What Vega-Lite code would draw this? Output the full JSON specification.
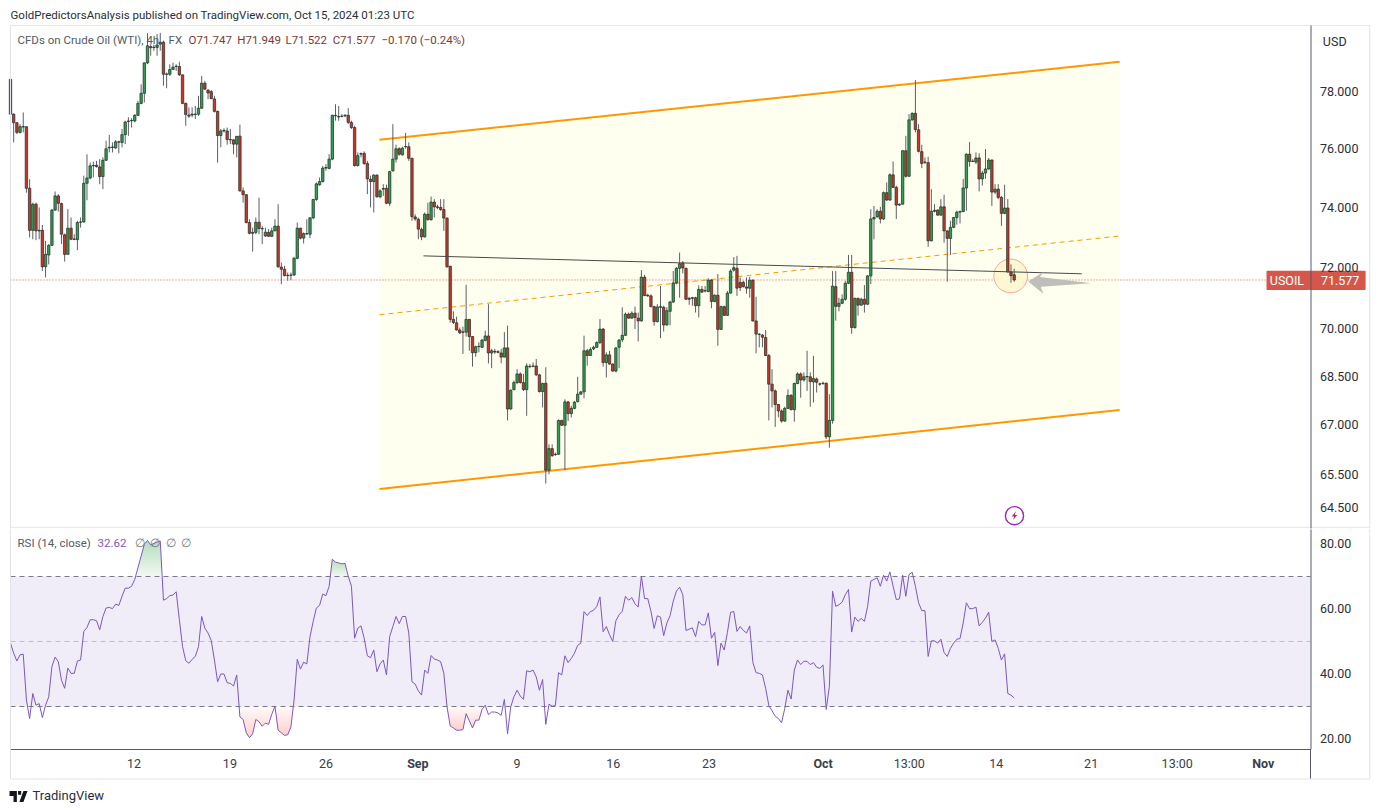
{"$schema":"https://vega.github.io/schema/vega-lite/v6.json","background":"#ffffff","padding":{"left":8.5,"top":10,"right":0,"bottom":0},"spacing":1,"bounds":"flush","config":{"view":{"stroke":null},"concat":{"spacing":1},"font":"Roboto","text":{"font":"Roboto"}},"datasets":{"bars":[
{"i":0,"o":78.45,"h":78.48,"l":77.21,"c":77.21,"r":49.5},{"i":1,"o":77.21,"h":77.24,"l":76.22,"c":76.91,"r":46.4},{"i":2,"o":76.91,"h":76.91,"l":76.51,"c":76.57,"r":44},{"i":3,"o":76.57,"h":76.86,"l":76.53,"c":76.77,"r":45.9},{"i":4,"o":76.76,"h":77.27,"l":76.57,"c":76.77,"r":46.1},{"i":5,"o":76.77,"h":76.77,"l":74.49,"c":74.64,"r":32},{"i":6,"o":74.64,"h":74.95,"l":72.98,"c":73.22,"r":26.3},{"i":7,"o":73.22,"h":74.15,"l":72.92,"c":74.1,"r":34},{"i":8,"o":74.1,"h":74.15,"l":72.89,"c":73.2,"r":30.4},{"i":9,"o":73.2,"h":73.99,"l":72.92,"c":73.22,"r":30.9},
{"i":10,"o":73.22,"h":73.4,"l":71.87,"c":72.01,"r":26.6},{"i":11,"o":72.01,"h":72.87,"l":71.66,"c":72.42,"r":30.4},{"i":12,"o":72.4,"h":72.76,"l":72.09,"c":72.72,"r":33},{"i":13,"o":72.72,"h":73.93,"l":72.7,"c":73.9,"r":42.3},{"i":14,"o":73.9,"h":74.53,"l":73.87,"c":74.38,"r":45.2},{"i":15,"o":74.38,"h":74.44,"l":73.85,"c":74.13,"r":43.8},{"i":16,"o":74.12,"h":74.15,"l":72.76,"c":73.09,"r":38.1},{"i":17,"o":73.07,"h":73.11,"l":72.18,"c":72.42,"r":35.6},{"i":18,"o":72.42,"h":73.93,"l":72.42,"c":73.29,"r":41.8},{"i":19,"o":73.29,"h":73.65,"l":72.89,"c":72.92,"r":40.2},
{"i":20,"o":72.93,"h":73.09,"l":72.89,"c":72.92,"r":40.2},{"i":21,"o":72.91,"h":73.54,"l":72.56,"c":73.48,"r":44},{"i":22,"o":73.49,"h":73.65,"l":73.31,"c":73.5,"r":44.3},{"i":23,"o":73.5,"h":75.07,"l":73.48,"c":74.81,"r":53.1},{"i":24,"o":74.81,"h":75.81,"l":74.23,"c":74.99,"r":54.3},{"i":25,"o":74.99,"h":75.52,"l":74.95,"c":75.41,"r":56.7},{"i":26,"o":75.41,"h":75.55,"l":75.01,"c":75.42,"r":56.7},{"i":27,"o":75.43,"h":75.58,"l":75.35,"c":75.38,"r":56.4},{"i":28,"o":75.37,"h":75.64,"l":74.78,"c":75.04,"r":53.6},{"i":29,"o":75.04,"h":75.7,"l":74.61,"c":75.6,"r":57.7},
{"i":30,"o":75.6,"h":76.28,"l":75.58,"c":76,"r":60.3},{"i":31,"o":76.03,"h":76.48,"l":75.87,"c":76.05,"r":60.5},{"i":32,"o":76.05,"h":76.22,"l":75.87,"c":76.06,"r":60.1},{"i":33,"o":76.03,"h":76.3,"l":76,"c":76.24,"r":61.5},{"i":34,"o":76.23,"h":76.28,"l":75.84,"c":76.24,"r":61.1},{"i":35,"o":76.22,"h":76.69,"l":76.05,"c":76.49,"r":63.9},{"i":36,"o":76.49,"h":76.98,"l":76.16,"c":76.93,"r":66.4},{"i":37,"o":76.95,"h":77.1,"l":76.45,"c":76.97,"r":66.4},{"i":38,"o":76.98,"h":77.07,"l":76.74,"c":76.99,"r":67},{"i":39,"o":76.97,"h":77.21,"l":76.92,"c":77.17,"r":69.1},
{"i":40,"o":77.17,"h":77.68,"l":77.15,"c":77.59,"r":72.7},{"i":41,"o":77.59,"h":78.27,"l":77.56,"c":77.95,"r":76.3},{"i":42,"o":77.95,"h":79.05,"l":77.62,"c":79.04,"r":79.9},{"i":43,"o":79.04,"h":80.12,"l":78.99,"c":79.66,"r":81.1},{"i":44,"o":79.63,"h":79.72,"l":79.3,"c":79.59,"r":79.7},{"i":45,"o":79.6,"h":79.7,"l":79.48,"c":79.61,"r":80.2},{"i":46,"o":79.6,"h":80.09,"l":79.3,"c":79.69,"r":80.6},{"i":47,"o":79.72,"h":80.13,"l":79.48,"c":79.79,"r":80.9},{"i":48,"o":79.79,"h":79.85,"l":78.22,"c":78.63,"r":62.7},{"i":49,"o":78.63,"h":78.69,"l":78.13,"c":78.64,"r":63.2},
{"i":50,"o":78.63,"h":78.99,"l":78.57,"c":78.8,"r":64.1},{"i":51,"o":78.8,"h":79.05,"l":78.79,"c":78.89,"r":64.3},{"i":52,"o":78.91,"h":78.99,"l":78.75,"c":78.92,"r":65.3},{"i":53,"o":78.91,"h":79.08,"l":78.57,"c":78.61,"r":56.7},{"i":54,"o":78.61,"h":78.61,"l":77.56,"c":77.59,"r":48.4},{"i":55,"o":77.59,"h":77.62,"l":76.8,"c":77.2,"r":44.1},{"i":56,"o":77.14,"h":77.45,"l":77.07,"c":77.18,"r":43.3},{"i":57,"o":77.18,"h":77.45,"l":77.1,"c":77.21,"r":44.5},{"i":58,"o":77.2,"h":77.5,"l":77.04,"c":77.21,"r":45.4},{"i":59,"o":77.21,"h":77.86,"l":77.15,"c":77.42,"r":48.4},
{"i":60,"o":77.42,"h":78.57,"l":77.39,"c":78.31,"r":57.7},{"i":61,"o":78.31,"h":78.39,"l":78.06,"c":78.1,"r":54.1},{"i":62,"o":78.06,"h":78.1,"l":77.74,"c":77.96,"r":52.6},{"i":63,"o":78.01,"h":78.06,"l":77.74,"c":77.76,"r":50.3},{"i":64,"o":77.75,"h":77.86,"l":77.27,"c":77.31,"r":44.3},{"i":65,"o":77.31,"h":77.33,"l":75.52,"c":76.46,"r":37.6},{"i":66,"o":76.46,"h":76.69,"l":76.05,"c":76.62,"r":40},{"i":67,"o":76.62,"h":76.71,"l":76.57,"c":76.64,"r":40},{"i":68,"o":76.62,"h":76.74,"l":76.14,"c":76.32,"r":37.3},{"i":69,"o":76.32,"h":76.69,"l":76.16,"c":76.31,"r":37.1},
{"i":70,"o":76.31,"h":76.33,"l":75.81,"c":76.16,"r":36.3},{"i":71,"o":76.16,"h":76.45,"l":75.7,"c":76.43,"r":39.7},{"i":72,"o":76.44,"h":76.84,"l":74.53,"c":74.55,"r":26.8},{"i":73,"o":74.55,"h":74.67,"l":74.15,"c":74.42,"r":26},{"i":74,"o":74.42,"h":74.44,"l":73.45,"c":73.48,"r":21.9},{"i":75,"o":73.48,"h":73.59,"l":73.09,"c":73.12,"r":20.4},{"i":76,"o":73.12,"h":73.31,"l":72.51,"c":73.15,"r":21.6},{"i":77,"o":73.15,"h":73.65,"l":73.09,"c":73.49,"r":26},{"i":78,"o":73.49,"h":74.32,"l":73.09,"c":73.28,"r":25.3},{"i":79,"o":73.28,"h":73.37,"l":72.76,"c":73.27,"r":23.9},
{"i":80,"o":73.03,"h":73.31,"l":73,"c":73.16,"r":24.9},{"i":81,"o":73.15,"h":73.26,"l":73,"c":73.02,"r":24.5},{"i":82,"o":73.02,"h":73.31,"l":73,"c":73.2,"r":27.6},{"i":83,"o":73.2,"h":73.59,"l":73.2,"c":73.36,"r":30.1},{"i":84,"o":73.36,"h":74.1,"l":71.98,"c":72.01,"r":22.7},{"i":85,"o":72,"h":72.15,"l":71.44,"c":71.93,"r":21.9},{"i":86,"o":71.93,"h":72.04,"l":71.7,"c":71.72,"r":21.1},{"i":87,"o":71.72,"h":71.82,"l":71.55,"c":71.73,"r":21.3},{"i":88,"o":71.73,"h":71.82,"l":71.57,"c":71.74,"r":23.7},{"i":89,"o":71.74,"h":72.34,"l":71.71,"c":72.29,"r":32},
{"i":90,"o":72.29,"h":73.48,"l":72.26,"c":73.29,"r":44.5},{"i":91,"o":73.29,"h":73.31,"l":72.92,"c":72.96,"r":41.5},{"i":92,"o":72.96,"h":73.15,"l":72.78,"c":73.11,"r":43.6},{"i":93,"o":73.1,"h":73.59,"l":73.07,"c":73.11,"r":43.1},{"i":94,"o":73.09,"h":73.65,"l":72.96,"c":73.64,"r":51.5},{"i":95,"o":73.64,"h":74.27,"l":73.59,"c":74.26,"r":56.2},{"i":96,"o":74.26,"h":74.84,"l":74.21,"c":74.79,"r":60.3},{"i":97,"o":74.76,"h":75.01,"l":74.72,"c":74.87,"r":61.1},{"i":98,"o":74.87,"h":75.41,"l":74.84,"c":75.33,"r":64.6},{"i":99,"o":75.33,"h":75.47,"l":75.24,"c":75.35,"r":64.1},
{"i":100,"o":75.32,"h":75.81,"l":75.29,"c":75.64,"r":67},{"i":101,"o":75.64,"h":77.19,"l":75.6,"c":77.17,"r":75.3},{"i":102,"o":77.15,"h":77.56,"l":76.98,"c":77.17,"r":74.4},{"i":103,"o":77.13,"h":77.5,"l":76.98,"c":77.11,"r":74.2},{"i":104,"o":77.13,"h":77.21,"l":77.1,"c":77.14,"r":73.9},{"i":105,"o":77.15,"h":77.21,"l":77.1,"c":77.17,"r":74},{"i":106,"o":77.17,"h":77.42,"l":76.86,"c":76.92,"r":70.1},{"i":107,"o":76.92,"h":76.98,"l":76.69,"c":76.74,"r":67},{"i":108,"o":76.74,"h":76.8,"l":75.38,"c":75.42,"r":51},{"i":109,"o":75.42,"h":75.87,"l":75.38,"c":75.76,"r":54.1},
{"i":110,"o":75.81,"h":75.87,"l":75.7,"c":75.83,"r":54.8},{"i":111,"o":75.84,"h":75.91,"l":75.44,"c":75.49,"r":51},{"i":112,"o":75.49,"h":75.58,"l":74.44,"c":74.96,"r":45.6},{"i":113,"o":74.95,"h":75.07,"l":73.99,"c":74.87,"r":45},{"i":114,"o":74.87,"h":75.12,"l":73.82,"c":75.09,"r":47.4},{"i":115,"o":75.09,"h":75.12,"l":74.32,"c":74.35,"r":40.7},{"i":116,"o":74.35,"h":74.61,"l":74.3,"c":74.55,"r":43.1},{"i":117,"o":74.61,"h":74.78,"l":74.38,"c":74.63,"r":44.3},{"i":118,"o":74.64,"h":74.76,"l":74.1,"c":74.13,"r":39.7},{"i":119,"o":74.13,"h":75.24,"l":74.04,"c":75.21,"r":51.5},
{"i":120,"o":75.24,"h":76.86,"l":75.21,"c":75.64,"r":54.6},{"i":121,"o":75.64,"h":76.14,"l":75.52,"c":76,"r":57.7},{"i":122,"o":76,"h":76.05,"l":75.76,"c":75.81,"r":55.5},{"i":123,"o":75.79,"h":76.07,"l":75.76,"c":76.02,"r":57.7},{"i":124,"o":76.07,"h":76.55,"l":76,"c":76.08,"r":57.7},{"i":125,"o":76.07,"h":76.22,"l":75.58,"c":75.67,"r":52.6},{"i":126,"o":75.67,"h":75.69,"l":73.54,"c":73.68,"r":37.6},{"i":127,"o":73.67,"h":73.76,"l":73.54,"c":73.6,"r":36.9},{"i":128,"o":73.59,"h":73.65,"l":72.92,"c":73.26,"r":34.8},{"i":129,"o":73.25,"h":73.31,"l":72.89,"c":73,"r":33.5},
{"i":130,"o":73,"h":73.82,"l":72.98,"c":73.76,"r":41.2},{"i":131,"o":73.76,"h":74.15,"l":73.54,"c":73.58,"r":40.2},{"i":132,"o":73.58,"h":74.36,"l":73.54,"c":74.17,"r":45.7},{"i":133,"o":74.17,"h":74.27,"l":73.65,"c":74.01,"r":44.6},{"i":134,"o":74.01,"h":74.08,"l":73.93,"c":73.99,"r":44.3},{"i":135,"o":73.99,"h":74.27,"l":73.87,"c":73.92,"r":43.8},{"i":136,"o":73.92,"h":74.27,"l":73.2,"c":73.63,"r":40.2},{"i":137,"o":73.63,"h":73.65,"l":71.98,"c":72.01,"r":29.9},{"i":138,"o":72.03,"h":72.03,"l":70.2,"c":70.3,"r":24},{"i":139,"o":70.3,"h":70.56,"l":70.15,"c":70.2,"r":23.4},
{"i":140,"o":70.19,"h":70.39,"l":69.94,"c":69.96,"r":22.7},{"i":141,"o":69.96,"h":70.04,"l":69.83,"c":69.87,"r":22.7},{"i":142,"o":69.9,"h":70.07,"l":69.2,"c":69.89,"r":22.9},{"i":143,"o":69.89,"h":71.42,"l":69.75,"c":70.3,"r":27.8},{"i":144,"o":70.3,"h":70.31,"l":69.3,"c":69.75,"r":25.6},{"i":145,"o":69.75,"h":69.77,"l":68.8,"c":69.24,"r":23.4},{"i":146,"o":69.24,"h":69.46,"l":69.11,"c":69.43,"r":25.8},{"i":147,"o":69.43,"h":69.57,"l":69.25,"c":69.44,"r":25.8},{"i":148,"o":69.41,"h":69.67,"l":69.39,"c":69.64,"r":29.1},{"i":149,"o":69.63,"h":69.94,"l":69.6,"c":69.77,"r":30.4},
{"i":150,"o":69.77,"h":70.79,"l":68.9,"c":69.23,"r":27.5},{"i":151,"o":69.23,"h":69.36,"l":68.75,"c":69.3,"r":28.3},{"i":152,"o":69.28,"h":69.36,"l":69.2,"c":69.26,"r":28.3},{"i":153,"o":69.27,"h":69.32,"l":69.22,"c":69.25,"r":28},{"i":154,"o":69.23,"h":69.36,"l":68.9,"c":69.1,"r":27.3},{"i":155,"o":69.1,"h":69.89,"l":69.09,"c":69.39,"r":32.2},{"i":156,"o":69.39,"h":70.1,"l":67.13,"c":67.48,"r":21.6},{"i":157,"o":67.48,"h":68.09,"l":67.46,"c":68.06,"r":29.9},{"i":158,"o":68.08,"h":68.36,"l":68.06,"c":68.3,"r":33},{"i":159,"o":68.3,"h":68.72,"l":68.25,"c":68.57,"r":35},
{"i":160,"o":68.57,"h":68.62,"l":68.27,"c":68.3,"r":33.2},{"i":161,"o":68.3,"h":68.57,"l":68.04,"c":68.08,"r":32.2},{"i":162,"o":68.08,"h":68.9,"l":67.27,"c":68.82,"r":41},{"i":163,"o":68.81,"h":68.88,"l":68.75,"c":68.8,"r":40.7},{"i":164,"o":68.81,"h":68.93,"l":68.78,"c":68.82,"r":41.2},{"i":165,"o":68.82,"h":69.04,"l":68.51,"c":68.54,"r":39.1},{"i":166,"o":68.54,"h":68.57,"l":67.99,"c":68.02,"r":35},{"i":167,"o":68.02,"h":68.3,"l":67.53,"c":68.27,"r":38.3},{"i":168,"o":68.28,"h":68.78,"l":65.22,"c":65.62,"r":24.5},{"i":169,"o":65.62,"h":66.4,"l":65.5,"c":66.27,"r":30.7},
{"i":170,"o":66.27,"h":66.4,"l":66.02,"c":66.06,"r":30.1},{"i":171,"o":66.09,"h":66.15,"l":66.05,"c":66.1,"r":30.3},{"i":172,"o":66.1,"h":67.16,"l":66.08,"c":67.13,"r":40.4},{"i":173,"o":67.13,"h":67.15,"l":66.96,"c":66.98,"r":39.7},{"i":174,"o":66.98,"h":67.78,"l":65.62,"c":67.7,"r":45.6},{"i":175,"o":67.7,"h":67.73,"l":67.11,"c":67.34,"r":43.5},{"i":176,"o":67.34,"h":67.58,"l":67.22,"c":67.5,"r":44.8},{"i":177,"o":67.5,"h":67.73,"l":67.47,"c":67.69,"r":46.4},{"i":178,"o":67.71,"h":68.48,"l":67.68,"c":67.94,"r":48.8},{"i":179,"o":67.94,"h":68.04,"l":67.92,"c":68.01,"r":49.5},
{"i":180,"o":68.01,"h":69.78,"l":67.81,"c":69.3,"r":59.2},{"i":181,"o":69.3,"h":69.36,"l":68.83,"c":69.15,"r":58},{"i":182,"o":69.15,"h":69.41,"l":69.14,"c":69.34,"r":59.2},{"i":183,"o":69.36,"h":69.46,"l":69.32,"c":69.41,"r":59.6},{"i":184,"o":69.41,"h":69.6,"l":69.39,"c":69.56,"r":60.8},{"i":185,"o":69.56,"h":70.31,"l":69.51,"c":69.99,"r":63.7},{"i":186,"o":69.99,"h":70.02,"l":68.8,"c":68.93,"r":53},{"i":187,"o":68.93,"h":69.25,"l":68.46,"c":69.17,"r":54.6},{"i":188,"o":69.17,"h":69.3,"l":68.86,"c":68.88,"r":52.1},{"i":189,"o":68.88,"h":68.9,"l":68.64,"c":68.66,"r":50},
{"i":190,"o":68.66,"h":69.41,"l":68.62,"c":69.39,"r":56.4},{"i":191,"o":69.41,"h":69.67,"l":68.75,"c":69.64,"r":58.2},{"i":192,"o":69.65,"h":70.69,"l":69.57,"c":69.79,"r":59.3},{"i":193,"o":69.79,"h":70.52,"l":69.77,"c":70.47,"r":63.9},{"i":194,"o":70.47,"h":70.52,"l":70.32,"c":70.34,"r":62.7},{"i":195,"o":70.34,"h":70.56,"l":70.32,"c":70.5,"r":63.5},{"i":196,"o":70.5,"h":70.71,"l":69.99,"c":70.36,"r":61.6},{"i":197,"o":70.34,"h":70.52,"l":69.6,"c":70.25,"r":60.6},{"i":198,"o":70.25,"h":71.9,"l":70.23,"c":71.67,"r":70.1},{"i":199,"o":71.67,"h":71.74,"l":71.05,"c":71.07,"r":63.2},
{"i":200,"o":71.08,"h":71.13,"l":71.03,"c":71.06,"r":63.2},{"i":201,"o":71.06,"h":71.11,"l":70.69,"c":70.71,"r":59.3},{"i":202,"o":70.71,"h":70.74,"l":70.1,"c":70.23,"r":54},{"i":203,"o":70.23,"h":70.79,"l":70.2,"c":70.7,"r":57.9},{"i":204,"o":70.71,"h":71.38,"l":69.7,"c":70.69,"r":57.5},{"i":205,"o":70.69,"h":70.74,"l":69.91,"c":70.12,"r":51.8},{"i":206,"o":70.12,"h":70.69,"l":70.1,"c":70.58,"r":55.7},{"i":207,"o":70.56,"h":70.9,"l":70.11,"c":70.86,"r":57.9},{"i":208,"o":70.86,"h":71.87,"l":70.83,"c":71.48,"r":62.4},{"i":209,"o":71.48,"h":72,"l":71.44,"c":71.96,"r":65.5},
{"i":210,"o":71.96,"h":72.48,"l":71,"c":72.11,"r":66.7},{"i":211,"o":72.13,"h":72.2,"l":71.79,"c":71.97,"r":64.4},{"i":212,"o":71.96,"h":71.98,"l":70.92,"c":70.95,"r":53.4},{"i":213,"o":70.95,"h":71.03,"l":70.77,"c":70.98,"r":53.8},{"i":214,"o":70.98,"h":71.03,"l":70.74,"c":71,"r":54.2},{"i":215,"o":71,"h":71.03,"l":70.52,"c":70.74,"r":51.5},{"i":216,"o":70.74,"h":71.4,"l":70.36,"c":71.27,"r":56.2},{"i":217,"o":71.27,"h":71.38,"l":71.16,"c":71.18,"r":55.1},{"i":218,"o":71.22,"h":71.38,"l":71.17,"c":71.23,"r":55.1},{"i":219,"o":71.2,"h":71.63,"l":71.18,"c":71.57,"r":58.8},
{"i":220,"o":71.57,"h":71.6,"l":70.66,"c":70.88,"r":51},{"i":221,"o":70.88,"h":71.11,"l":70.85,"c":71.08,"r":52.8},{"i":222,"o":71.08,"h":71.77,"l":69.46,"c":69.98,"r":42.6},{"i":223,"o":69.98,"h":70.74,"l":69.96,"c":70.71,"r":49.5},{"i":224,"o":70.71,"h":70.74,"l":70.41,"c":70.43,"r":47.4},{"i":225,"o":70.43,"h":71.22,"l":70.42,"c":71.15,"r":52.8},{"i":226,"o":71.15,"h":71.93,"l":71.13,"c":71.87,"r":59},{"i":227,"o":71.9,"h":72.33,"l":71.85,"c":71.98,"r":59.2},{"i":228,"o":71.96,"h":72.37,"l":71.06,"c":71.31,"r":53.1},{"i":229,"o":71.5,"h":71.66,"l":71.22,"c":71.33,"r":54.6},
{"i":230,"o":71.5,"h":71.55,"l":71.33,"c":71.36,"r":53.4},{"i":231,"o":71.35,"h":71.66,"l":71.13,"c":71.31,"r":52.6},{"i":232,"o":71.31,"h":71.68,"l":71,"c":71.57,"r":54.8},{"i":233,"o":71.57,"h":71.6,"l":70.23,"c":70.25,"r":43.5},{"i":234,"o":70.25,"h":71.03,"l":69.22,"c":69.83,"r":40.4},{"i":235,"o":69.82,"h":69.85,"l":69.41,"c":69.83,"r":40.2},{"i":236,"o":69.8,"h":69.83,"l":69.41,"c":69.73,"r":39.7},{"i":237,"o":69.72,"h":69.96,"l":69.13,"c":69.15,"r":35.6},{"i":238,"o":69.15,"h":69.2,"l":67.13,"c":68.25,"r":30.3},{"i":239,"o":68.25,"h":68.72,"l":67.53,"c":68.04,"r":28.7},
{"i":240,"o":68.04,"h":68.09,"l":66.93,"c":67.62,"r":27},{"i":241,"o":67.62,"h":67.63,"l":67.22,"c":67.42,"r":26.3},{"i":242,"o":67.42,"h":67.47,"l":67.06,"c":67.11,"r":25},{"i":243,"o":67.11,"h":67.55,"l":67.09,"c":67.5,"r":29.4},{"i":244,"o":67.5,"h":68.09,"l":67.48,"c":67.9,"r":35},{"i":245,"o":67.9,"h":67.94,"l":67.44,"c":67.46,"r":32.3},{"i":246,"o":67.46,"h":68.3,"l":67.09,"c":68.27,"r":41.2},{"i":247,"o":68.27,"h":68.62,"l":68.25,"c":68.57,"r":44.3},{"i":248,"o":68.57,"h":68.62,"l":67.83,"c":68.38,"r":42.9},{"i":249,"o":68.38,"h":68.62,"l":68.33,"c":68.48,"r":43.9},
{"i":250,"o":68.48,"h":69.3,"l":68.04,"c":68.49,"r":43.9},{"i":251,"o":68.48,"h":68.62,"l":67.55,"c":68.33,"r":42.9},{"i":252,"o":68.32,"h":69.14,"l":67.68,"c":68.43,"r":43.5},{"i":253,"o":68.41,"h":68.46,"l":67.99,"c":68.31,"r":42.1},{"i":254,"o":68.25,"h":68.3,"l":68.2,"c":68.26,"r":41.7},{"i":255,"o":68.27,"h":68.33,"l":68.23,"c":68.28,"r":42.8},{"i":256,"o":68.28,"h":68.3,"l":66.56,"c":66.63,"r":29.1},{"i":257,"o":66.63,"h":67.94,"l":66.3,"c":67.13,"r":36.1},{"i":258,"o":67.13,"h":71.87,"l":67.03,"c":71.38,"r":65.5},{"i":259,"o":71.36,"h":71.87,"l":70.26,"c":70.72,"r":60.8},
{"i":260,"o":70.72,"h":71,"l":70.56,"c":70.82,"r":61.3},{"i":261,"o":70.82,"h":71.11,"l":70.79,"c":70.95,"r":62.1},{"i":262,"o":70.95,"h":71.55,"l":70.9,"c":71.47,"r":64.4},{"i":263,"o":71.47,"h":72.4,"l":71.44,"c":71.83,"r":66},{"i":264,"o":71.83,"h":72.4,"l":69.84,"c":70.04,"r":52.9},{"i":265,"o":70.04,"h":71,"l":70,"c":70.98,"r":57.5},{"i":266,"o":70.98,"h":71,"l":70.42,"c":70.76,"r":56.2},{"i":267,"o":70.76,"h":71,"l":70.74,"c":70.95,"r":57.1},{"i":268,"o":70.95,"h":71.41,"l":70.52,"c":70.79,"r":56.2},{"i":269,"o":70.79,"h":71.74,"l":70.76,"c":71.71,"r":60.8},
{"i":270,"o":71.71,"h":73.93,"l":71.44,"c":73.6,"r":68.6},{"i":271,"o":73.6,"h":74.04,"l":72.92,"c":73.65,"r":69.1},{"i":272,"o":73.67,"h":73.93,"l":73.65,"c":73.86,"r":69.6},{"i":273,"o":73.86,"h":74.01,"l":73.45,"c":73.6,"r":67},{"i":274,"o":73.6,"h":74.53,"l":73.57,"c":74.49,"r":70.4},{"i":275,"o":74.49,"h":74.84,"l":74.21,"c":74.24,"r":68.6},{"i":276,"o":74.24,"h":75.15,"l":74.21,"c":75.1,"r":71.4},{"i":277,"o":75.1,"h":75.56,"l":74.65,"c":74.67,"r":67},{"i":278,"o":74.67,"h":74.73,"l":73.6,"c":74.07,"r":62.9},{"i":279,"o":74.07,"h":74.12,"l":74.04,"c":74.1,"r":63.1},
{"i":280,"o":74.1,"h":75.95,"l":74.08,"c":75.93,"r":70.4},{"i":281,"o":75.93,"h":76.45,"l":75.01,"c":75.05,"r":63.9},{"i":282,"o":75.05,"h":77.21,"l":75.03,"c":77.01,"r":70.6},{"i":283,"o":77.01,"h":77.27,"l":76.98,"c":77.24,"r":71.3},{"i":284,"o":77.24,"h":78.42,"l":76.57,"c":76.67,"r":67},{"i":285,"o":76.66,"h":76.86,"l":75.87,"c":75.91,"r":61.9},{"i":286,"o":75.9,"h":76.14,"l":75.33,"c":75.49,"r":59.5},{"i":287,"o":75.54,"h":75.7,"l":75.47,"c":75.53,"r":59.5},{"i":288,"o":75.52,"h":75.72,"l":72.67,"c":72.87,"r":45.4},{"i":289,"o":72.87,"h":74.61,"l":72.85,"c":73.86,"r":50.2},
{"i":290,"o":73.86,"h":74.1,"l":73.82,"c":73.89,"r":50.2},{"i":291,"o":73.9,"h":73.93,"l":73.71,"c":73.73,"r":49.5},{"i":292,"o":73.73,"h":74.27,"l":73.71,"c":74.01,"r":50.7},{"i":293,"o":74.01,"h":74.42,"l":72.81,"c":73.2,"r":46.6},{"i":294,"o":73.2,"h":73.22,"l":71.52,"c":72.95,"r":45.4},{"i":295,"o":72.95,"h":73.54,"l":72.4,"c":73.32,"r":47.9},{"i":296,"o":73.32,"h":73.67,"l":73.29,"c":73.65,"r":49.5},{"i":297,"o":73.65,"h":73.88,"l":73.41,"c":73.83,"r":50.7},{"i":298,"o":73.83,"h":73.88,"l":73.45,"c":73.85,"r":50.9},{"i":299,"o":73.85,"h":74.96,"l":73.83,"c":74.65,"r":55.7},
{"i":300,"o":74.65,"h":75.84,"l":73.88,"c":75.81,"r":61.9},{"i":301,"o":75.81,"h":76.23,"l":75.38,"c":75.56,"r":60.1},{"i":302,"o":75.56,"h":75.64,"l":75.54,"c":75.57,"r":60.1},{"i":303,"o":75.54,"h":75.87,"l":75.47,"c":75.68,"r":60.6},{"i":304,"o":75.68,"h":75.84,"l":74.53,"c":74.96,"r":54.8},{"i":305,"o":74.96,"h":75.24,"l":74.73,"c":75.16,"r":55.9},{"i":306,"o":75.16,"h":75.99,"l":74.96,"c":75.3,"r":57.2},{"i":307,"o":75.3,"h":75.68,"l":75.27,"c":75.61,"r":59},{"i":308,"o":75.61,"h":75.63,"l":74.04,"c":74.51,"r":50},{"i":309,"o":74.51,"h":74.78,"l":74.44,"c":74.61,"r":50.5},
{"i":310,"o":74.61,"h":74.78,"l":74.27,"c":74.33,"r":47.9},{"i":311,"o":74.33,"h":74.38,"l":73.37,"c":73.79,"r":44.3},{"i":312,"o":73.79,"h":74.76,"l":73.76,"c":73.97,"r":46.2},{"i":313,"o":73.97,"h":74.27,"l":71.82,"c":71.84,"r":34},{"i":314,"o":71.84,"h":72.09,"l":71.49,"c":71.72,"r":33.5},{"i":315,"o":71.747,"h":71.949,"l":71.522,"c":71.577,"r":32.62}
]},"vconcat":[
{"width":1300,"height":503,"encoding":{"x":{"field":"i","type":"quantitative","scale":{"domain":[0,408],"nice":false,"zero":false,"padding":0},"axis":null},"y":{"field":"p","type":"quantitative","scale":{"type":"log","domain":[63.91,80.42],"nice":false},"axis":{"orient":"right","title":null,"values":[64.5,65.5,67,68.5,70,72,74,76,78],"format":".3f","grid":false,"ticks":false,"labelPadding":9,"labelFontSize":12.5,"labelColor":"#2a2e39","domainColor":"#555a66","labelFont":"Roboto","zindex":1}}},"layer":[
{"data":{"values":[{"i":115.82,"p":65.06,"p2":76.31},{"i":348.1,"p":67.45,"p2":79.08}]},"mark":{"type":"area","color":"#fffff0","opacity":1},"encoding":{"y2":{"field":"p2"}}},
{"data":{"values":[{"g":"lower","i":115.82,"p":65.06},{"g":"lower","i":348.1,"p":67.45},{"g":"upper","i":115.82,"p":76.31},{"g":"upper","i":348.1,"p":79.08}]},"mark":{"type":"line","color":"#ff9800","strokeWidth":2},"encoding":{"detail":{"field":"g"}}},
{"data":{"values":[{"i":115.82,"p":70.45},{"i":348.1,"p":73.03}]},"mark":{"type":"line","color":"#ff9800","strokeWidth":1,"strokeDash":[5,4]},"encoding":{}},
{"data":{"values":[{"i":0,"i2":394.2,"p":71.577}]},"mark":{"type":"rule","color":"#d6574a","strokeWidth":1,"strokeDash":[1,2]},"encoding":{"x2":{"field":"i2"}}},
{"data":{"values":[{"i":313.9,"p":71.71}]},"mark":{"type":"point","shape":"circle","filled":true,"size":1134,"fill":"#fff8d2","stroke":"#f5a5a0","strokeWidth":1,"opacity":1},"encoding":{}},
{"data":{"name":"bars"},"mark":{"type":"rule","color":"#5c5f66","strokeWidth":1},"encoding":{"y":{"field":"l","type":"quantitative"},"y2":{"field":"h"}}},
{"data":{"name":"bars"},"mark":{"type":"bar","width":2.4,"stroke":"#1e2a24","strokeWidth":0.7},"encoding":{"y":{"field":"o","type":"quantitative"},"y2":{"field":"c"},"color":{"condition":{"test":"datum.c>=datum.o","value":"#2ea04f"},"value":"#c8382a"}}},
{"data":{"values":[{"i":129.6,"p":72.37},{"i":336.2,"p":71.78}]},"mark":{"type":"line","color":"#4a4a4a","strokeWidth":1},"encoding":{}},
{"data":{"values":[{"i":329.3,"p":71.5}]},"mark":{"type":"point","shape":"M-1,-0.03 L-0.51,-0.34 L-0.63,-0.17 L1,0.025 L-0.6,0.14 L-0.52,0.36 Z","filled":true,"size":3969,"fill":"#b9bcb4","opacity":0.95},"encoding":{}},
{"data":{"values":[{"i":315.1,"p":64.27}]},"mark":{"type":"point","shape":"circle","filled":false,"size":330,"stroke":"#9c27b0","strokeWidth":1.4,"opacity":1},"encoding":{}},
{"data":{"values":[{"i":315.1,"p":64.27}]},"mark":{"type":"point","shape":"M0.25,-0.8 L-0.5,0.15 L-0.05,0.15 L-0.25,0.8 L0.5,-0.15 L0.05,-0.15 Z","filled":true,"size":120,"fill":"#d81b60","opacity":1},"encoding":{}},
{"data":{"values":[{"i":394.2,"i2":425.3,"p":71.88,"p2":71.25}]},"mark":{"type":"rect","color":"#d6574a","cornerRadius":1},"encoding":{"x2":{"field":"i2"},"y2":{"field":"p2"}}},
{"data":{"values":[{"i":0,"i2":426.6,"p":80.4},{"i":0,"i2":426.6,"p":63.93}]},"mark":{"type":"rule","color":"#e6e4ee","strokeWidth":1},"encoding":{"x2":{"field":"i2"}}},
{"data":{"values":[{"i":0,"p":63.91,"p2":80.42},{"i":426.6,"p":63.91,"p2":80.42}]},"mark":{"type":"rule","color":"#e0e3eb","strokeWidth":1},"encoding":{"y2":{"field":"p2"}}},
{"data":{"values":[{"i":0,"p":80.75,"t":"GoldPredictorsAnalysis published on TradingView.com, Oct 15, 2024 01:23 UTC","col":"#2a2e39"},{"i":2.2,"p":79.84,"t":"CFDs on Crude Oil (WTI), 4h","col":"#555a66"},{"i":49.6,"p":79.84,"t":"FX","col":"#555a66"},{"i":55.9,"p":79.84,"t":"O71.747","col":"#7c3a33"},{"i":71.2,"p":79.84,"t":"H71.949","col":"#7c3a33"},{"i":86.3,"p":79.84,"t":"L71.522","col":"#7c3a33"},{"i":101.1,"p":79.84,"t":"C71.577","col":"#7c3a33"},{"i":116.4,"p":79.84,"t":"−0.170 (−0.24%)","col":"#7c3a33"}]},"mark":{"type":"text","align":"left","baseline":"middle","fontSize":11.5,"font":"Roboto"},"encoding":{"text":{"field":"t"},"color":{"field":"col","type":"nominal","scale":null}}},
{"data":{"values":[{"i":415.6,"p":79.8,"t":"USD","col":"#2a2e39"},{"i":400.6,"p":71.56,"t":"USOIL","col":"#ffffff"},{"i":417.3,"p":71.56,"t":"71.577","col":"#ffffff"}]},"mark":{"type":"text","align":"center","baseline":"middle","fontSize":12.5,"font":"Roboto"},"encoding":{"text":{"field":"t"},"color":{"field":"col","type":"nominal","scale":null}}}
]},
{"width":1300,"height":220,"encoding":{"x":{"field":"i","type":"quantitative","scale":{"domain":[0,408],"nice":false,"zero":false,"padding":0},"axis":{"title":null,"values":[38.6,68.7,98.9,127.7,158.8,189,219.1,254.9,281.9,309.2,339,366,393],"labelExpr":"{'38.6':'12','68.7':'19','98.9':'26','127.7':'Sep','158.8':'9','189':'16','219.1':'23','254.9':'Oct','281.9':'13:00','309.2':'14','339':'21','366':'13:00','393':'Nov'}[''+datum.value]","grid":false,"ticks":false,"labelPadding":8,"labelFontSize":12.5,"labelColor":"#3a3e48","labelFont":"Roboto","domainColor":"#555a66","labelFontWeight":{"condition":{"test":"datum.value==127.7||datum.value==254.9||datum.value==393","value":700},"value":400}}},"y":{"field":"r","type":"quantitative","scale":{"domain":[16.92,84.615],"nice":false,"zero":false},"axis":{"orient":"right","title":null,"values":[20,40,60,80],"format":".2f","grid":false,"ticks":false,"labelPadding":9,"labelFontSize":12.5,"labelColor":"#2a2e39","labelFont":"Roboto","domainColor":"#555a66","zindex":1}}},"layer":[
{"data":{"values":[{"i":0,"r":30,"r2":70},{"i":408,"r":30,"r2":70}]},"mark":{"type":"area","color":"#f0ecf8"},"encoding":{"y2":{"field":"r2"}}},
{"data":{"values":[{"g":"a","i":39.8,"r":70},{"g":"a","i":40,"r":72.7},{"g":"a","i":41,"r":76.3},{"g":"a","i":42,"r":79.9},{"g":"a","i":43,"r":81.1},{"g":"a","i":44,"r":79.7},{"g":"a","i":45,"r":80.2},{"g":"a","i":46,"r":80.6},{"g":"a","i":47,"r":80.9},{"g":"a","i":47.4,"r":70},{"g":"b","i":100.3,"r":70},{"g":"b","i":101,"r":75.3},{"g":"b","i":102,"r":74.4},{"g":"b","i":103,"r":74.2},{"g":"b","i":104,"r":73.9},{"g":"b","i":105,"r":74},{"g":"b","i":106,"r":70}]},"mark":{"type":"area","color":{"gradient":"linear","x1":0,"y1":0,"x2":0,"y2":1,"stops":[{"offset":0,"color":"#b5dcb9"},{"offset":1,"color":"#f2f9f2"}]}},"encoding":{"detail":{"field":"g"},"y2":{"datum":70}}},
{"data":{"values":[{"g":"c","i":71.7,"r":30},{"g":"c","i":72,"r":26.8},{"g":"c","i":73,"r":26},{"g":"c","i":74,"r":21.9},{"g":"c","i":75,"r":20.4},{"g":"c","i":76,"r":21.6},{"g":"c","i":77,"r":26},{"g":"c","i":78,"r":25.3},{"g":"c","i":79,"r":23.9},{"g":"c","i":80,"r":24.9},{"g":"c","i":81,"r":24.5},{"g":"c","i":82,"r":27.6},{"g":"c","i":83,"r":30},{"g":"d","i":83,"r":30},{"g":"d","i":84,"r":22.7},{"g":"d","i":85,"r":21.9},{"g":"d","i":86,"r":21.1},{"g":"d","i":87,"r":21.3},{"g":"d","i":88,"r":23.7},{"g":"d","i":88.8,"r":30},{"g":"e","i":137,"r":30},{"g":"e","i":138,"r":24},{"g":"e","i":139,"r":23.4},{"g":"e","i":140,"r":22.7},{"g":"e","i":141,"r":22.7},{"g":"e","i":142,"r":22.9},{"g":"e","i":143,"r":27.8},{"g":"e","i":144,"r":25.6},{"g":"e","i":145,"r":23.4},{"g":"e","i":146,"r":25.8},{"g":"e","i":147,"r":25.8},{"g":"e","i":148,"r":29.1},{"g":"e","i":148.5,"r":30}]},"mark":{"type":"area","color":{"gradient":"linear","x1":0,"y1":0,"x2":0,"y2":1,"stops":[{"offset":0,"color":"#fffafa"},{"offset":1,"color":"#ffcfcb"}]}},"encoding":{"detail":{"field":"g"},"y2":{"datum":30}}},
{"data":{"values":[{"i":0,"i2":408,"r":70},{"i":0,"i2":408,"r":30}]},"mark":{"type":"rule","color":"#787b86","strokeWidth":1,"strokeDash":[5,4]},"encoding":{"x2":{"field":"i2"}}},
{"data":{"values":[{"i":0,"i2":408,"r":50}]},"mark":{"type":"rule","color":"#c0bfc9","strokeWidth":1,"strokeDash":[5,4]},"encoding":{"x2":{"field":"i2"}}},
{"data":{"name":"bars"},"mark":{"type":"line","color":"#7e57c2","strokeWidth":1,"interpolate":"linear"},"encoding":{}},
{"data":{"values":[{"i":0,"r":84.6,"r2":7.69},{"i":426.6,"r":84.6,"r2":7.69}]},"mark":{"type":"rule","color":"#e0e3eb","strokeWidth":1},"encoding":{"y2":{"field":"r2"}}},
{"data":{"values":[{"i":408,"r":16.92,"r2":7.69}]},"mark":{"type":"rule","color":"#555a66","strokeWidth":1},"encoding":{"y2":{"field":"r2"}}},
{"data":{"values":[{"i":0,"i2":426.6,"r":7.69}]},"mark":{"type":"rule","color":"#e0e3eb","strokeWidth":1},"encoding":{"x2":{"field":"i2"}}},
{"data":{"values":[{"i":2.51,"r":2.31}]},"mark":{"type":"point","shape":"M-1,-0.62 L-0.18,-0.62 L-0.18,0.62 L-0.55,0.62 L-0.55,-0.05 L-1,-0.05 Z M0.55,-0.62 L1,-0.62 L0.55,0.62 L0.1,0.62 Z M-0.05,-0.62 L0.3,-0.62 L0.3,-0.2 L-0.05,-0.2 Z","filled":true,"size":324,"fill":"#131722","opacity":1},"encoding":{}},
{"data":{"values":[{"i":2.2,"r":80,"t":"RSI (14, close)","col":"#555a66"},{"i":27.3,"r":80,"t":"32.62","col":"#7e57c2"},{"i":39.2,"r":80,"t":"∅","col":"#787b86"},{"i":43.9,"r":80,"t":"∅","col":"#787b86"},{"i":48.7,"r":80,"t":"∅","col":"#787b86"},{"i":53.4,"r":80,"t":"∅","col":"#787b86"}]},"mark":{"type":"text","align":"left","baseline":"middle","fontSize":11.5,"font":"Roboto"},"encoding":{"text":{"field":"t"},"color":{"field":"col","type":"nominal","scale":null}}},
{"data":{"values":[{"i":6.9,"r":2.46,"t":"TradingView"}]},"mark":{"type":"text","align":"left","baseline":"middle","fontSize":13,"font":"Roboto","color":"#2a2e39"},"encoding":{"text":{"field":"t"}}}
]}
]}
